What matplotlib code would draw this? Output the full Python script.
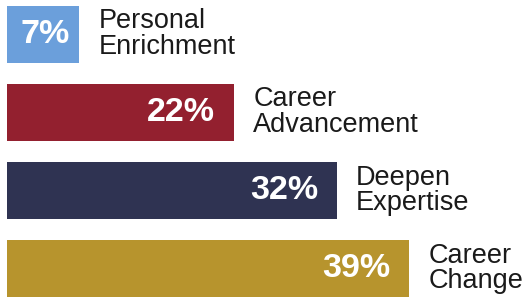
import matplotlib.pyplot as plt

# share of respondents by primary goal
categories = ['Personal\nEnrichment', 'Career\nAdvancement', 'Deepen\nExpertise', 'Career\nChange']
values = [7, 22, 32, 39]
colors = ['#6b9fdb', '#93202f', '#2f3352', '#b7942d']

fig = plt.figure(figsize=(5.25, 3.01), dpi=100)
ax = fig.add_axes([0, 0, 1, 1])

ypos = range(len(values))
ax.barh(ypos, values, height=0.73, color=colors)

for y, v, lab in zip(ypos, values, categories):
    if v < 10:
        ax.text(v / 2 + 0.2, y, f'{v}%', color='white', fontsize=24.5, fontweight='bold',
                family='Liberation Sans', ha='center', va='center')
    else:
        ax.text(v - 1.8, y, f'{v}%', color='white', fontsize=24.5, fontweight='bold',
                family='Liberation Sans', ha='right', va='center')
    ax.text(v + 1.9, y, lab, color='#1a1a1a', fontsize=19.5, family='Liberation Sans',
            ha='left', va='center', linespacing=0.98)

ax.set_xlim(-0.68, 50.3)
ax.set_ylim(3.417, -0.436)
ax.axis('off')

fig.savefig('out.png', dpi=100)
